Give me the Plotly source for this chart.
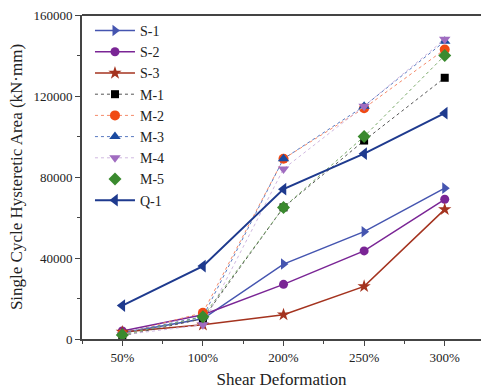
import plotly.graph_objects as go

categories = ["50%", "100%", "200%", "250%", "300%"]
s1 = [3000, 10000, 37000, 53000, 74500]
s2 = [4000, 12000, 27000, 43500, 69000]
s3 = [3500, 7000, 12000, 26000, 64000]
m1 = [1500, 10000, 65000, 98000, 129000]
m2 = [2500, 13000, 89000, 114000, 143000]
m3 = [3000, 11000, 89000, 115000, 147000]
m4 = [2000, 7000, 84000, 115000, 148000]
m5 = [2000, 11000, 65000, 100000, 140000]
q1 = [16500, 36000, 74000, 91500, 111500]
y_ticks = [0, 40000, 80000, 120000, 160000]

SERIF = "Liberation Serif"

x = list(range(len(categories)))
fig = go.Figure()

def add(name, y, color, symbol, dash, size=8, lcolor=None, width=1.5, legend_line=True):
    if legend_line:
        fig.add_trace(go.Scatter(x=x, y=y, name=name, mode="lines+markers",
                                 line=dict(color=lcolor or color, width=width, dash=dash),
                                 marker=dict(color=color, symbol=symbol, size=size)))
    else:
        fig.add_trace(go.Scatter(x=x, y=y, name=name, mode="lines", showlegend=False,
                                 line=dict(color=lcolor or color, width=width, dash=dash)))
        fig.add_trace(go.Scatter(x=x, y=y, name=name, mode="markers",
                                 marker=dict(color=color, symbol=symbol, size=size)))

add("S-1", s1, "#4555b0", "triangle-right", "solid", 10)
add("S-2", s2, "#7a2595", "circle", "solid", 9)
add("S-3", s3, "#a4331f", "star", "solid", 10)
add("M-1", m1, "#000000", "square", "dot", 8, lcolor="#555555", width=1)
add("M-2", m2, "#f04a14", "circle", "dot", 10, lcolor="#f58a6a", width=1)
add("M-3", m3, "#1a4aa0", "triangle-up", "dot", 10, lcolor="#5a7ac0", width=1)
add("M-4", m4, "#a06cc0", "triangle-down", "dot", 10, lcolor="#d0b8e0", width=1)
add("M-5", m5, "#3a8a2e", "diamond", "dot", 10, lcolor="#7aaa6a", width=1, legend_line=False)
add("Q-1", q1, "#1e3a8e", "triangle-left", "solid", 11, width=2)

fig.update_layout(
    width=481, height=390,
    margin=dict(l=82, r=0, t=15, b=51),
    paper_bgcolor="white", plot_bgcolor="white",
    font=dict(family=SERIF, size=13, color="#222"),
    showlegend=True,
    legend=dict(x=0.02, y=1.0, xanchor="left", yanchor="top",
                font=dict(family=SERIF, size=14, color="#222"),
                bgcolor="rgba(0,0,0,0)", tracegroupgap=0, itemwidth=40),
    xaxis=dict(
        tickmode="array", tickvals=x, ticktext=categories,
        range=[-0.5, 4.45], showgrid=False, zeroline=False,
        showline=True, linecolor="#444", linewidth=2, mirror=False,
        ticks="outside", ticklen=5, tickcolor="#444",
        minor=dict(tickvals=[-0.5, 0.5, 1.5, 2.5, 3.5], ticks="outside", ticklen=3, tickcolor="#444"),
        title=dict(text="Shear Deformation", font=dict(family=SERIF, size=17), standoff=10),
        tickfont=dict(family=SERIF, size=13),
    ),
    yaxis=dict(
        range=[0, 160000], tickvals=y_ticks, ticktext=[str(v) for v in y_ticks],
        showgrid=False, zeroline=False, showline=True, linecolor="#444", linewidth=2,
        ticks="outside", ticklen=5, tickcolor="#444",
        minor=dict(tickvals=[20000, 60000, 100000, 140000], ticks="outside", ticklen=3, tickcolor="#444"),
        title=dict(text="Single Cycle Hysteretic Area (kN·mm)", font=dict(family=SERIF, size=17), standoff=6),
        tickfont=dict(family=SERIF, size=13),
    ),
)
fig.add_shape(type="line", xref="paper", yref="paper", x0=0, x1=1, y0=1, y1=1,
              line=dict(color="#444", width=2))
fig.write_html("out.html")
